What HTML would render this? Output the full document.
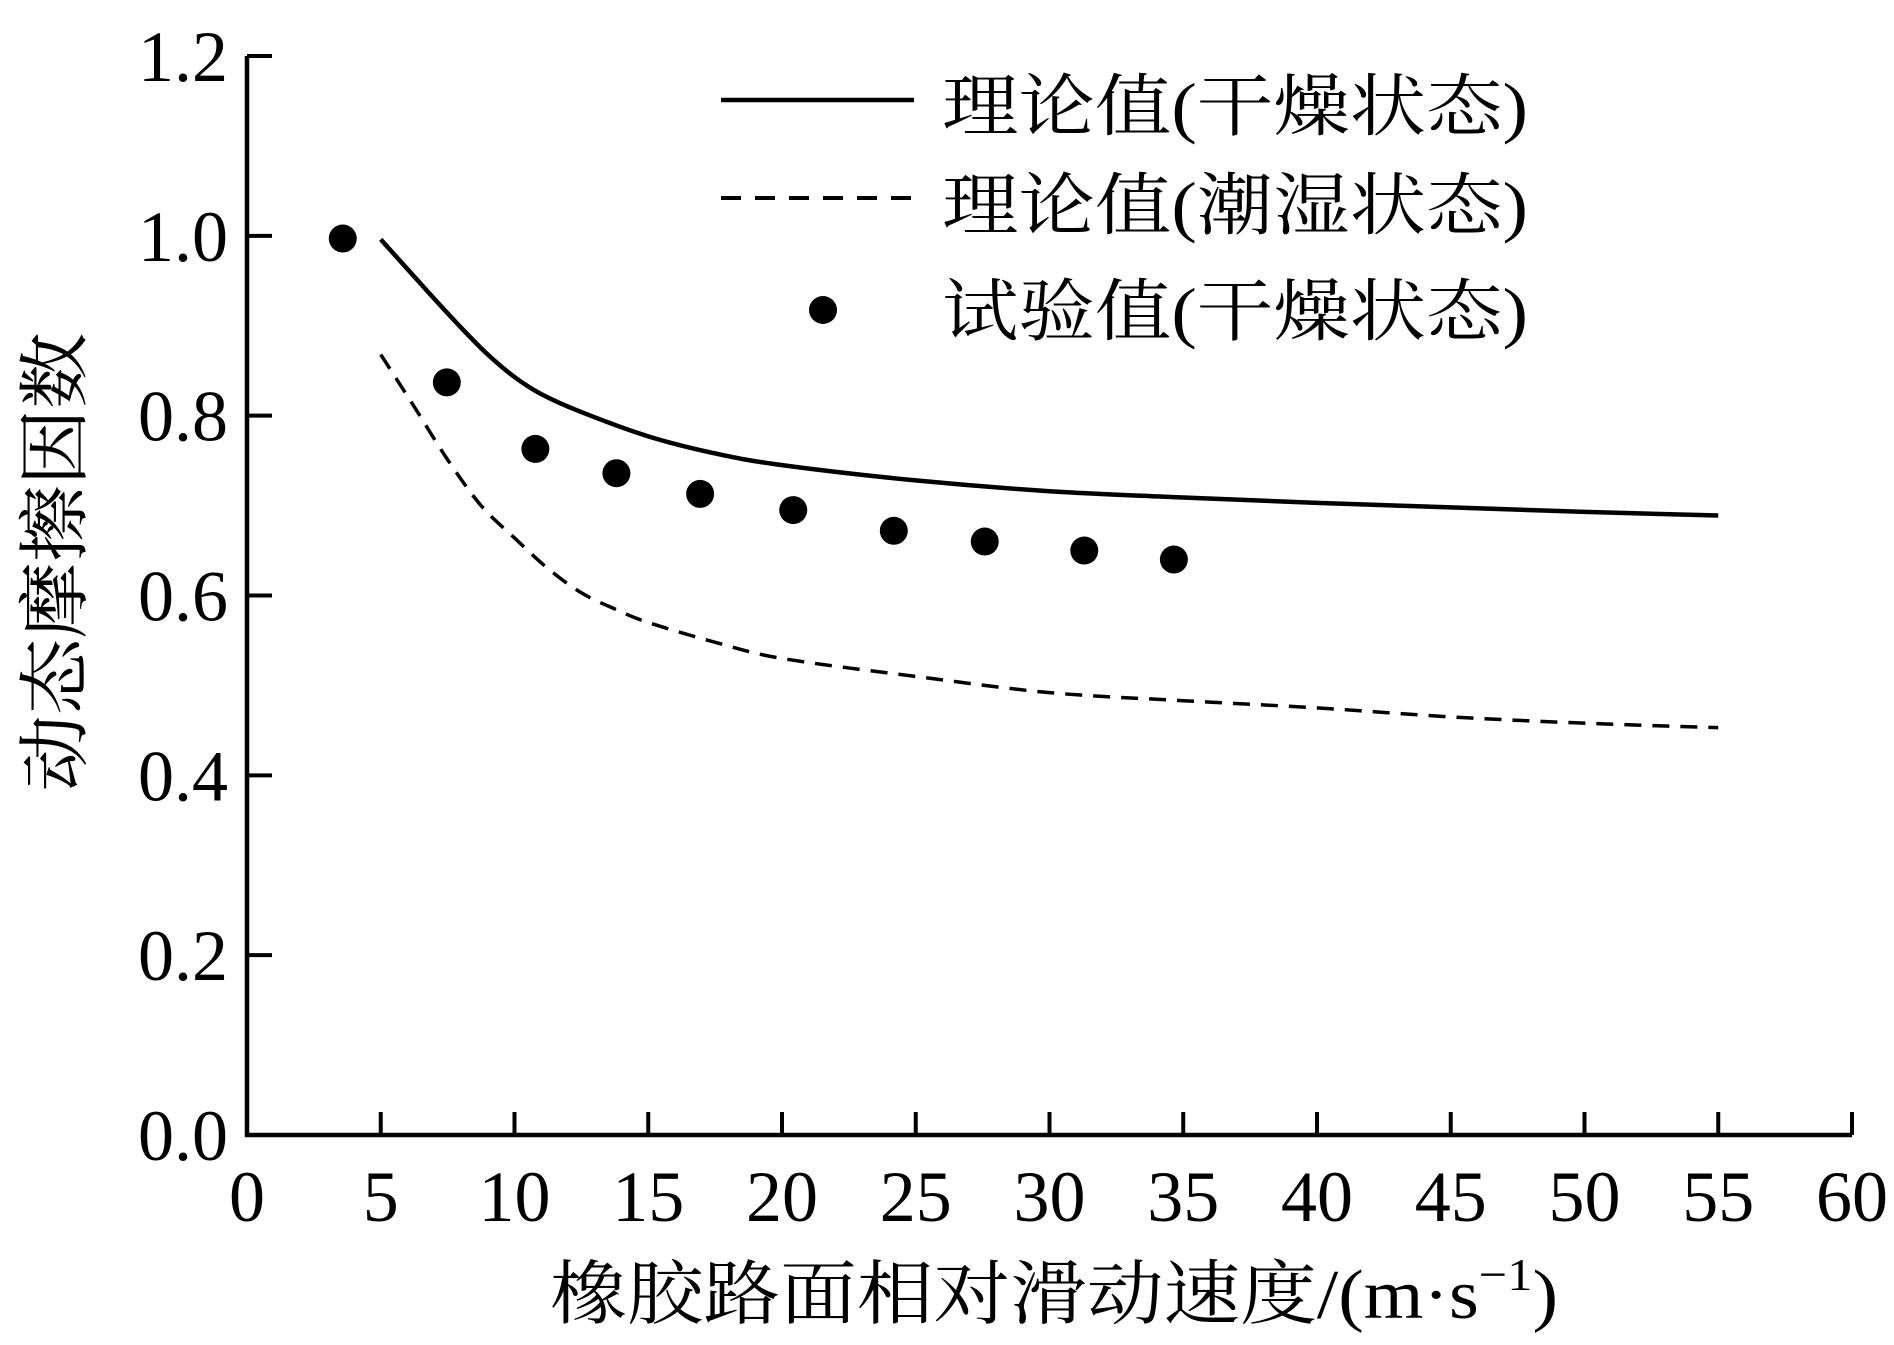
<!DOCTYPE html>
<html><head><meta charset="utf-8"><style>
html,body{margin:0;padding:0;background:#fff;}
svg{display:block;}
text{font-family:"Liberation Serif","Noto Serif CJK SC","Noto Sans CJK SC",serif;fill:#000;}
</style></head><body>
<svg id="chart" width="1894" height="1345" viewBox="0 0 1894 1345" xmlns="http://www.w3.org/2000/svg">
<g id="axes"></g>
<g id="series"></g>
<g id="legend">
  <line x1="721" y1="100" x2="914" y2="100" stroke="#000" stroke-width="4.5"/>
  <text x="942" y="130" font-size="68" textLength="586" lengthAdjust="spacingAndGlyphs">理论值(干燥状态)</text>
  <line x1="721" y1="198" x2="914" y2="198" stroke="#000" stroke-width="4" stroke-dasharray="20,14"/>
  <text x="942" y="229" font-size="68" textLength="586" lengthAdjust="spacingAndGlyphs">理论值(潮湿状态)</text>
  <circle cx="823" cy="310" r="14"/>
  <text x="942" y="335" font-size="68" textLength="586" lengthAdjust="spacingAndGlyphs">试验值(干燥状态)</text>
</g>
<text x="550" y="1318" font-size="70" textLength="1008" lengthAdjust="spacingAndGlyphs">橡胶路面相对滑动速度/(m·s<tspan dy="-28" font-size="46">−1</tspan><tspan dy="28">)</tspan></text>
<text transform="translate(80,562) rotate(-90)" text-anchor="middle" font-size="72" textLength="459" lengthAdjust="spacingAndGlyphs">动态摩擦因数</text>
</svg>
<script>
const xTicks = [0,5,10,15,20,25,30,35,40,45,50,55,60];
const yTicks = [0.0,0.2,0.4,0.6,0.8,1.0,1.2];
const yTickLabels = ["0.0","0.2","0.4","0.6","0.8","1.0","1.2"];
const dryX = [5,6,7,8,9,10,11,12.5,15,17.5,20,25,30,35,40,45,50,55];
const dryY = [0.996,0.963,0.93,0.898,0.868,0.843,0.824,0.804,0.777,0.758,0.745,0.728,0.716,0.709,0.703,0.698,0.693,0.689];
const wetX = [5,6.25,7.5,8.75,10,11.25,12.5,13.75,15,17.5,20,25,30,35,40,45,50,55];
const wetY = [0.868,0.81,0.751,0.70,0.664,0.63,0.603,0.585,0.570,0.548,0.530,0.510,0.492,0.483,0.475,0.465,0.458,0.453];
const testX = [3.58,7.47,10.78,13.81,16.94,20.42,24.18,27.58,31.30,34.65];
const testY = [0.997,0.837,0.763,0.736,0.713,0.695,0.672,0.660,0.650,0.640];

const NS="http://www.w3.org/2000/svg";
const X0=247, X1=1852, Y0=1135, Y1=56;
const sx=v=>X0+(v-0)/(60-0)*(X1-X0);
const sy=v=>Y0-(v-0)/(1.2-0)*(Y0-Y1);
function mk(tag,attrs,parent){const e=document.createElementNS(NS,tag);for(const k in attrs)e.setAttribute(k,attrs[k]);parent.appendChild(e);return e;}
const axes=document.getElementById('axes');
const series=document.getElementById('series');

let e=mk('path',{d:`M${X0},${Y1} V${Y0} H${X1}`,fill:'none',stroke:'#000','stroke-width':4.5,'stroke-linejoin':'miter'},axes);



xTicks.forEach(t=>{
  const x=sx(t);
  const l=mk('line',{x1:x,y1:Y0,x2:x,y2:Y0-23,stroke:'#000','stroke-width':4},axes);
  
  
  const tx=mk('text',{x:x,y:1221,'text-anchor':'middle','font-size':72},axes);
  tx.textContent=String(t);
  
  
});
yTicks.forEach((t,i)=>{
  const y=sy(t);
  const l=mk('line',{x1:X0,y1:y,x2:X0+25,y2:y,stroke:'#000','stroke-width':4},axes);
  
  
  const tx=mk('text',{x:228,y:y+25,'text-anchor':'end','font-size':72},axes);
  tx.textContent=yTickLabels[i];
  
  
});

function smoothPath(xs,ys){
  const p=xs.map((x,i)=>[sx(x),sy(ys[i])]);
  let d=`M${p[0][0]},${p[0][1]}`;
  for(let i=0;i<p.length-1;i++){
    const p0=p[i-1]||p[i],p1=p[i],p2=p[i+1],p3=p[i+2]||p2;
    const c1=[p1[0]+(p2[0]-p0[0])/6,p1[1]+(p2[1]-p0[1])/6];
    const c2=[p2[0]-(p3[0]-p1[0])/6,p2[1]-(p3[1]-p1[1])/6];
    d+=` C${c1[0]},${c1[1]} ${c2[0]},${c2[1]} ${p2[0]},${p2[1]}`;
  }
  return d;
}
const dry=mk('path',{d:smoothPath(dryX,dryY),fill:'none',stroke:'#000','stroke-width':4.5},series);


const wet=mk('path',{d:smoothPath(wetX,wetY),fill:'none',stroke:'#000','stroke-width':3.5,'stroke-dasharray':'17,11'},series);


testX.forEach((x,i)=>{
  const c=mk('circle',{cx:sx(x),cy:sy(testY[i]),r:14},series);
  
  
});
</script>
</body></html>
